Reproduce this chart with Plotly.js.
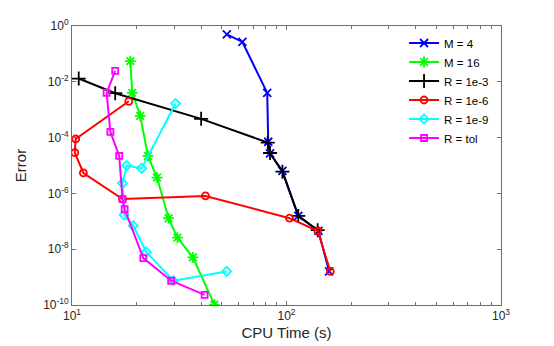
<!DOCTYPE html>
<html>
<head>
<meta charset="utf-8">
<script src="https://cdn.plot.ly/plotly-3.0.1.min.js"></script>
<style>
  html, body { margin: 0; padding: 0; background: #fff; }
  #vis { width: 554px; height: 346px; }
</style>
</head>
<body>
<div id="vis"></div>
<script>
// CPU time (s) and error for each run
const m4Time = [52.7, 62.3, 81.3, 82.2, 83.8, 95.7, 113.5, 140.9, 158];
const m4Err = [0.50, 0.268, 4.0e-3, 7.1e-5, 2.7e-5, 6.4e-6, 1.56e-7, 4.5e-8, 1.6e-9];

const m16Time = [18.7, 19.1, 20.8, 22.6, 24.9, 28.2, 31.0, 36.6, 46.1];
const m16Err = [5.5e-2, 4.0e-3, 6.0e-4, 2.2e-5, 3.7e-6, 1.29e-7, 2.6e-8, 5.1e-9, 1.03e-10];

const r3Time = [10.75, 15.9, 40.0, 81.8, 83.8, 95.7, 113.5, 139.8];
const r3Err = [1.31e-2, 3.9e-3, 4.7e-4, 6.6e-5, 2.8e-5, 6.0e-6, 1.56e-7, 4.8e-8];

const r6Time = [18.4, 10.4, 10.3, 11.3, 17.2, 41.9, 103.3, 140, 160];
const r6Err = [2.0e-3, 8.9e-5, 2.9e-5, 5.4e-6, 6.3e-7, 8.1e-7, 1.29e-7, 4.5e-8, 1.6e-9];

const r9Time = [30.4, 21.1, 18.0, 17.2, 17.5, 19.3, 22.2, 29.7, 52.6];
const r9Err = [1.67e-3, 7.9e-6, 9.9e-6, 2.3e-6, 1.7e-7, 6.9e-8, 7.9e-9, 7.4e-10, 1.6e-9];

const tolTime = [15.9, 14.5, 15.1, 16.6, 17.2, 17.6, 21.5, 29.0, 41.5];
const tolErr = [2.46e-2, 4.0e-3, 1.6e-4, 2.2e-5, 6.2e-7, 2.7e-7, 4.8e-9, 7.4e-10, 2.3e-10];

const seriesNames = ['M = 4', 'M = 16', 'R = 1e-3', 'R = 1e-6', 'R = 1e-9', 'R = tol'];
const seriesColors = ['#0000ff', '#00ff00', '#000000', '#ff0000', '#00ffff', '#ff00ff'];
const seriesSymbols = ['x-thin-open', 'asterisk-open', 'cross-thin-open', 'circle-open', 'diamond-open', 'square-open'];
const seriesSizes = [8, 9, 10, 7, 7, 6];

const xs = [m4Time, m16Time, r3Time, r6Time, r9Time, tolTime];
const ys = [m4Err, m16Err, r3Err, r6Err, r9Err, tolErr];

const yTickVals = [1, 1e-2, 1e-4, 1e-6, 1e-8, 1e-10];
const yTickText = ['10<sup>0</sup>', '10<sup>-2</sup>', '10<sup>-4</sup>', '10<sup>-6</sup>', '10<sup>-8</sup>', '10<sup>-10</sup>'];
const xTickVals = [10, 100, 1000];
const xTickText = ['10<sup>1</sup>', '10<sup>2</sup>', '10<sup>3</sup>'];
const xMinor = [20, 30, 40, 50, 60, 70, 80, 90, 200, 300, 400, 500, 600, 700, 800, 900];

const data = seriesNames.map((name, i) => ({
  type: 'scatter',
  mode: 'lines+markers',
  name: name,
  x: xs[i],
  y: ys[i],
  line: { color: seriesColors[i], width: 2 },
  marker: {
    symbol: seriesSymbols[i],
    size: seriesSizes[i],
    color: seriesColors[i],
    line: { color: seriesColors[i], width: 1.8 }
  }
}));

const axisColor = '#6e6e6e';

const layout = {
  width: 554,
  height: 346,
  margin: { l: 72, r: 53, t: 26, b: 41 },
  paper_bgcolor: '#ffffff',
  plot_bgcolor: '#ffffff',
  font: { family: 'Liberation Sans, Arial, sans-serif', size: 12, color: '#262626' },
  showlegend: true,
  legend: {
    x: 0.774, y: 0.991, xanchor: 'left', yanchor: 'top',
    bgcolor: 'rgba(255,255,255,0)',
    borderwidth: 0,
    font: { size: 11.5, color: '#000' },
    itemwidth: 30,
    tracegroupgap: 0
  },
  xaxis: {
    type: 'log',
    range: [1, 3],
    tickvals: xTickVals,
    ticktext: xTickText,
    ticks: 'inside',
    ticklen: 4,
    tickcolor: axisColor,
    showline: true,
    linecolor: axisColor,
    linewidth: 1,
    mirror: 'ticks',
    showgrid: false,
    zeroline: false,
    minor: { tickvals: xMinor, ticks: 'inside', ticklen: 3, tickcolor: axisColor, showgrid: false },
    title: { text: 'CPU Time (s)', font: { size: 15, color: '#262626' }, standoff: 5 }
  },
  yaxis: {
    type: 'log',
    range: [-10, 0],
    tickvals: yTickVals,
    ticktext: yTickText,
    ticks: 'inside',
    ticklen: 4,
    tickcolor: axisColor,
    showline: true,
    linecolor: axisColor,
    linewidth: 1,
    mirror: 'ticks',
    showgrid: false,
    zeroline: false,
    title: { text: 'Error', font: { size: 15, color: '#262626' }, standoff: 12 }
  }
};

Plotly.newPlot('vis', data, layout, { displayModeBar: false, staticPlot: true });
</script>
</body>
</html>
